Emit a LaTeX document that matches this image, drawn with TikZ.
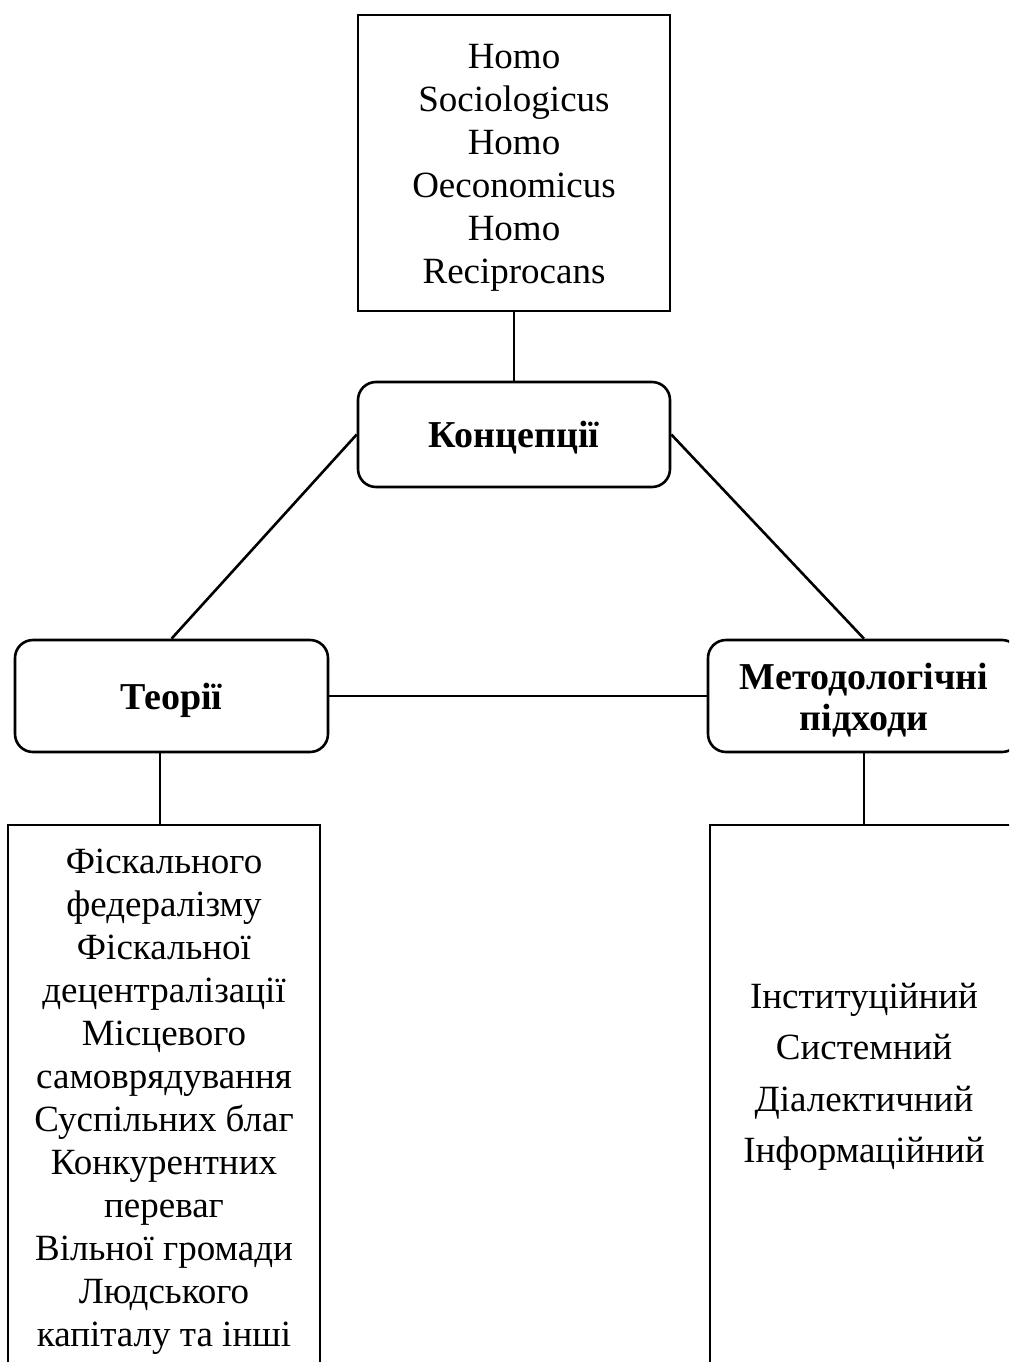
\documentclass[tikz,border=0pt]{standalone}
\usepackage{fontspec}
\setmainfont{Liberation Serif}
\begin{document}
\begin{tikzpicture}[x=1pt,y=-1pt,
  frame/.style={draw,line width=2.6pt,inner sep=0pt},
  plainbox/.style={frame},
  roundbox/.style={frame,rounded corners=18pt,align=center,font=\bfseries\fontsize{38}{41}\selectfont},
  txt/.style={align=center,inner sep=0pt},
  link/.style={line width=2.6pt}]
\useasboundingbox (0,0) rectangle (1009,1362);
\clip (0,0) rectangle (1009,1362);
% top box
\node[plainbox,minimum width=312pt,minimum height=296pt] (top) at (514,163) {};
\node[txt,font=\fontsize{37}{43}\selectfont] (toptext) at (514,168)
  {Homo\\Sociologicus\\Homo\\Oeconomicus\\Homo\\Reciprocans};
% rounded boxes
\node[roundbox,minimum width=312pt,minimum height=105pt] (conc) at (514,434.5) {};
\node[txt,font=\bfseries\fontsize{38}{41}\selectfont] (conct) at (514,438) {Концепції};
\node[roundbox,minimum width=313pt,minimum height=112pt] (theo) at (171.5,696) {};
\node[txt,font=\bfseries\fontsize{38}{41}\selectfont] (theot) at (171.5,700) {Теорії};
\node[roundbox,minimum width=312pt,minimum height=112pt] (meth) at (864,696) {};
\node[txt,font=\bfseries\fontsize{38}{41}\selectfont] (metht) at (864,700) {Методологічні\\підходи};
% bottom boxes
\node[plainbox,minimum width=312pt,minimum height=575pt] (lbox) at (164,1112.5) {};
\node[txt,font=\fontsize{37}{43}\selectfont] (ltext) at (164,1102)
  {Фіскального\\федералізму\\Фіскальної\\децентралізації\\Місцевого\\самоврядування\\Суспільних благ\\Конкурентних\\переваг\\Вільної громади\\Людського\\капіталу та інші};
\node[plainbox,minimum width=308pt,minimum height=575pt] (rbox) at (864,1112.5) {};
\node[txt,font=\fontsize{37}{51.5}\selectfont] (rtext) at (864,1077)
  {Інституційний\\Системний\\Діалектичний\\Інформаційний};
% connectors
\draw[link] (top.south) -- (conc.north);
\draw[link] (conc.west) -- (theo.north);
\draw[link] (conc.east) -- (meth.north);
\draw[link] (theo.east) -- (meth.west);
\draw[link] ([xshift=-11.5pt]theo.south) -- ([xshift=-11.5pt]theo.south |- lbox.north);
\draw[link] (meth.south) -- (meth.south |- rbox.north);
\end{tikzpicture}
\end{document}
